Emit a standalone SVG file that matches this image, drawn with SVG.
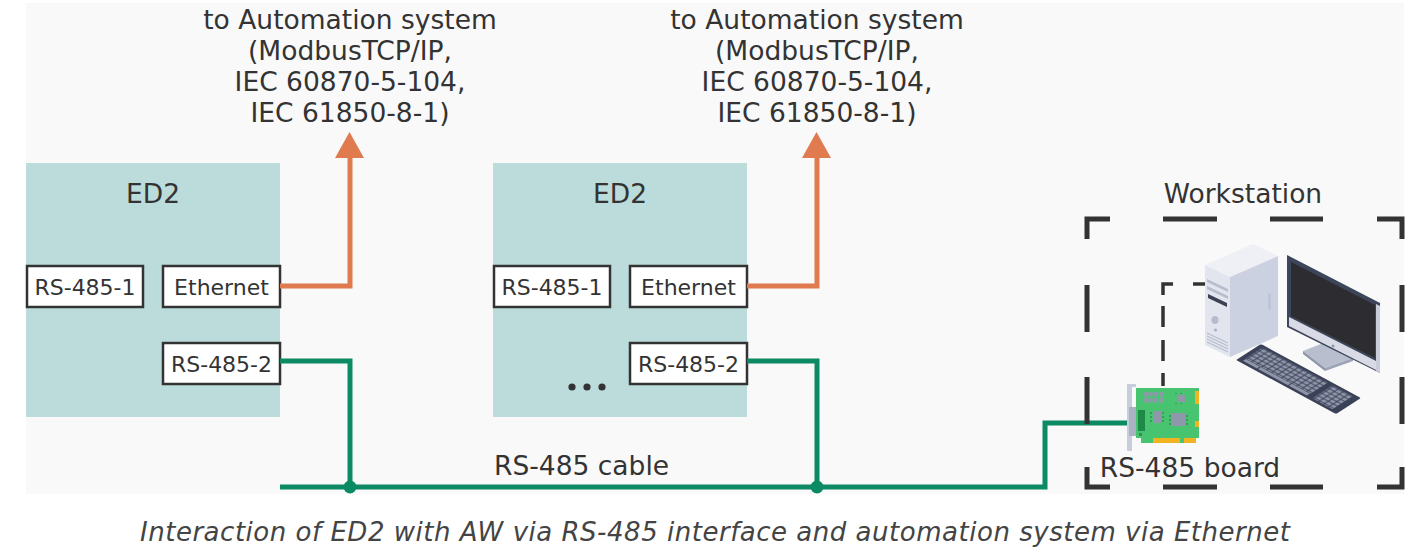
<svg xmlns="http://www.w3.org/2000/svg" width="1413" height="552" viewBox="0 0 1413 552">
  <defs>
    <style>
      .lbl { font-family: "DejaVu Sans", Verdana, sans-serif; fill: #333; }
      .big { font-size: 26.5px; }
      .port { font-size: 22px; }
      .ed2 { fill: #bcdcdc; }
      .pbox { fill: #ffffff; stroke: #333; stroke-width: 2.5; }
      .eth { fill: none; stroke: #e07b4f; stroke-width: 5; stroke-linejoin: miter; }
      .bus { fill: none; stroke: #0b8a63; stroke-width: 5; stroke-linejoin: miter; }
      .frame { fill: none; stroke: #333; stroke-width: 5; stroke-linejoin: miter; }
      .inner { fill: none; stroke: #333; stroke-width: 3.5; stroke-linejoin: miter; }
      .cap { font-family: "DejaVu Sans", Verdana, sans-serif; font-style: italic; font-size: 26px; fill: #444; }
    </style>
    <pattern id="keys" patternUnits="userSpaceOnUse" width="5" height="4.4">
      <rect x="0.5" y="0.5" width="4" height="3.4" fill="#8e95a9"/>
    </pattern>
  </defs>

  <rect x="0" y="0" width="1413" height="552" fill="#ffffff"/>
  <rect x="26" y="3" width="1378" height="491" fill="#f9f9f9"/>

  <!-- automation system labels -->
  <g id="automation-1" class="lbl big" text-anchor="middle">
    <text x="350" y="29">to Automation system</text>
    <text x="350" y="60">(ModbusTCP/IP,</text>
    <text x="350" y="91">IEC 60870-5-104,</text>
    <text x="350" y="122">IEC 61850-8-1)</text>
  </g>
  <g id="automation-2" class="lbl big" text-anchor="middle">
    <text x="817" y="29">to Automation system</text>
    <text x="817" y="60">(ModbusTCP/IP,</text>
    <text x="817" y="91">IEC 60870-5-104,</text>
    <text x="817" y="122">IEC 61850-8-1)</text>
  </g>

  <!-- device 1 -->
  <g id="ed2-1">
    <rect class="ed2" x="26" y="163" width="254" height="254"/>
    <text class="lbl big" x="153" y="203" text-anchor="middle">ED2</text>
    <rect class="pbox" x="27" y="266" width="116" height="41"/>
    <text class="lbl port" x="85" y="294.5" text-anchor="middle">RS-485-1</text>
    <rect class="pbox" x="163" y="266" width="117" height="41"/>
    <text class="lbl port" x="221.5" y="294.5" text-anchor="middle">Ethernet</text>
    <rect class="pbox" x="163" y="343" width="117" height="41"/>
    <text class="lbl port" x="221.5" y="371.5" text-anchor="middle">RS-485-2</text>
  </g>

  <!-- device 2 -->
  <g id="ed2-2">
    <rect class="ed2" x="493" y="163" width="254" height="254"/>
    <text class="lbl big" x="620" y="203" text-anchor="middle">ED2</text>
    <rect class="pbox" x="494" y="266" width="116" height="41"/>
    <text class="lbl port" x="552" y="294.5" text-anchor="middle">RS-485-1</text>
    <rect class="pbox" x="630" y="266" width="117" height="41"/>
    <text class="lbl port" x="688.5" y="294.5" text-anchor="middle">Ethernet</text>
    <rect class="pbox" x="630" y="343" width="117" height="41"/>
    <text class="lbl port" x="688.5" y="371.5" text-anchor="middle">RS-485-2</text>
    <circle cx="572" cy="387" r="3.6" fill="#333"/>
    <circle cx="587" cy="387" r="3.6" fill="#333"/>
    <circle cx="602" cy="387" r="3.6" fill="#333"/>
  </g>

  <!-- connectors -->
  <g id="connectors">
    <polyline class="eth" points="280,286 350,286 350,154"/>
    <polygon points="335,158 349.5,132 364,158" fill="#e07b4f"/>
    <polyline class="eth" points="747,286 817,286 817,154"/>
    <polygon points="802,158 816.5,132 831,158" fill="#e07b4f"/>

    <polyline class="bus" points="280,361 350,361 350,487"/>
    <polyline class="bus" points="747,361 817,361 817,487"/>
    <polyline class="bus" points="280,487 1045,487 1045,423 1134,423"/>
    <circle cx="350" cy="487" r="6.5" fill="#0b8a63"/>
    <circle cx="817" cy="487" r="6.5" fill="#0b8a63"/>
    <text class="lbl big" x="494" y="475">RS-485 cable</text>
  </g>

  <!-- workstation -->
  <g id="workstation">
    <text class="lbl big" x="1243" y="203" text-anchor="middle">Workstation</text>
    <!-- dashed outline -->
    <polyline class="frame" points="1110,219 1087,219 1087,239"/>
    <polyline class="frame" points="1377,219 1402,219 1402,239"/>
    <polyline class="frame" points="1087,467 1087,487 1110,487"/>
    <polyline class="frame" points="1402,467 1402,487 1377,487"/>
    <path class="frame" d="M1163,219H1217M1270,219H1323M1163,487H1217M1270,487H1323M1087,285V332M1087,377V424M1402,285V332M1402,377V424"/>
    <!-- link board to computer -->
    <polyline class="inner" points="1173,284 1163,284 1163,295"/>
    <path class="inner" d="M1163,306V327M1163,340V361M1163,373V386M1193,284H1205"/>

    <!-- tower -->
    <g id="tower">
      <polygon points="1205,265 1230,277 1278,256 1253,244" fill="#eff0f6"/>
      <polygon points="1205,265 1230,277 1230,357 1205,345" fill="#e2e5ee"/>
      <polygon points="1230,277 1278,256 1278,336 1230,357" fill="#ccd1e2"/>
      <polygon points="1207,279 1228,289 1228,292 1207,282" fill="#b7bdce"/>
      <polygon points="1207,286 1228,296 1228,299 1207,289" fill="#b7bdce"/>
      <polygon points="1208,294 1227,303 1227,307 1208,298" fill="#3b4053"/>
      <ellipse cx="1215" cy="320" rx="3.5" ry="4" fill="#b7bdce"/>
      <circle cx="1215.5" cy="330" r="1.6" fill="#a9afc2"/>
      <path d="M1207,333L1228,343M1207,336L1228,346M1207,339L1228,349M1207,342L1228,352" stroke="#b7bdce" stroke-width="1.3"/>
      <polygon points="1268,294 1271,293 1271,309 1268,310" fill="#bfc5d7"/>
    </g>

    <!-- monitor -->
    <g id="monitor">
      <polygon points="1327,340 1337,345 1337,360 1327,355" fill="#9aa1b5"/>
      <polygon points="1303,351 1331,340 1353,358 1325,368" fill="#b9bece"/>
      <polygon points="1303,351 1325,368 1325,371 1303,354" fill="#8e95a9"/>
      <polygon points="1325,368 1353,358 1353,361 1325,371" fill="#9ca3b6"/>
      <polygon points="1287,255 1380,303 1380,373 1287,327" fill="#3c4559"/>
      <polygon points="1289,317 1378,362 1378,371 1289,326" fill="#d8dbe6"/>
      <polygon points="1376,304 1380,306 1380,373 1376,371" fill="#c9cddb"/>
      <polygon points="1291,262 1375,305 1375,358 1291,316" fill="#2c2c31"/>
      <circle cx="1333" cy="346" r="1.5" fill="#8e95a9"/>
    </g>

    <!-- keyboard -->
    <g id="keyboard" transform="matrix(1.0,0.54,0.833,-0.533,1236,360)">
      <rect x="0" y="0" width="100" height="30" rx="1.5" fill="#3b4257"/>
      <rect x="4" y="7" width="65" height="20" fill="url(#keys)"/>
      <rect x="4.5" y="3" width="14" height="3.4" fill="#8e95a9"/>
      <rect x="19.5" y="3" width="30" height="3.4" fill="#8e95a9"/>
      <rect x="50.5" y="3" width="18" height="3.4" fill="#8e95a9"/>
      <rect x="74" y="3" width="20" height="24" fill="url(#keys)"/>
    </g>

    <!-- RS-485 board -->
    <g id="rs485-board">
      <rect x="1127" y="385" width="5" height="66" fill="#c7cedb"/>
      <rect x="1127" y="384" width="9" height="3" fill="#c7cedb"/>
      <rect x="1129" y="407" width="7" height="29" fill="#aab2c3"/>
      <polygon points="1136,388 1199,388 1199,438 1184,438 1184,443 1141,443 1141,438 1136,438" fill="#48c471"/>
      <rect x="1153" y="438" width="27" height="5" fill="#f2b320"/>
      <rect x="1184" y="438" width="12" height="5" fill="#f2b320"/>
      <rect x="1195" y="391" width="4" height="13" fill="#f2b320"/>
      <rect x="1195" y="421" width="4" height="6" fill="#f2b320"/>
      <g fill="#8f98ab">
        <rect x="1143" y="392" width="4" height="4.5"/>
        <rect x="1148.5" y="392" width="4" height="4.5"/>
        <rect x="1154" y="392" width="4" height="4.5"/>
        <rect x="1159.5" y="392" width="4" height="4.5"/>
        <rect x="1143" y="398" width="4" height="4.5"/>
        <rect x="1148.5" y="398" width="4" height="4.5"/>
        <rect x="1154" y="398" width="4" height="4.5"/>
        <rect x="1159.5" y="398" width="4" height="4.5"/>
        <rect x="1178" y="395" width="7" height="7"/>
        <rect x="1153" y="411" width="8" height="12"/>
        <rect x="1172" y="413" width="13" height="13"/>
      </g>
      <path d="M1176,394V393M1181,394V393M1176,404V403M1181,404V403M1150,413H1152M1150,417H1152M1150,421H1152M1162,413H1164M1162,417H1164M1162,421H1164M1169,416H1171M1169,420H1171M1169,424H1171M1186,416H1188M1186,420H1188M1186,424H1188" stroke="#2f8f52" stroke-width="1.4"/>
      <rect x="1138" y="410" width="7" height="21" fill="#1f8a47"/>
      <rect x="1139" y="433" width="3" height="3" fill="#2f8f52"/>
    </g>
    <text class="lbl big" x="1190" y="477" text-anchor="middle">RS-485 board</text>
  </g>

  <text class="cap" x="715" y="541" text-anchor="middle" textLength="1150" lengthAdjust="spacing">Interaction of ED2 with AW via RS-485 interface and automation system via Ethernet</text>
</svg>
